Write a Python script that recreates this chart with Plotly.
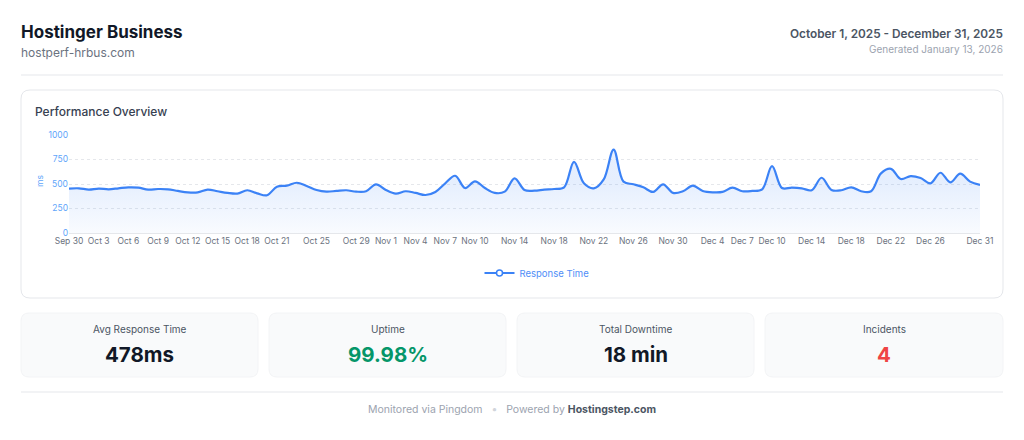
import plotly.graph_objects as go
import pandas as pd

# ---------------- data ----------------
START_DATE = "2025-09-30"
RESPONSE_MS = [
    453, 456, 443, 453, 446, 456, 466, 463, 443, 449,
    446, 429, 415, 415, 443, 426, 409, 402, 436, 405,
    385, 473, 483, 513, 480, 439, 422, 429, 436, 422,
    426, 497, 439, 402, 426, 409, 388, 419, 507, 584,
    459, 527, 459, 409, 422, 557, 439, 432, 443, 449,
    466, 726, 507, 456, 547, 851, 524, 497, 466, 419,
    497, 409, 426, 483, 429, 415, 419, 463, 426, 429,
    446, 682, 459, 463, 456, 436, 564, 439, 436, 466,
    426, 426, 608, 655, 551, 581, 561, 507, 615, 517,
    605, 524, 490,
]
TICK_LABELS = ["Sep 30", "Oct 3", "Oct 6", "Oct 9", "Oct 12", "Oct 15", "Oct 18",
               "Oct 21", "Oct 25", "Oct 29", "Nov 1", "Nov 4", "Nov 7", "Nov 10",
               "Nov 14", "Nov 18", "Nov 22", "Nov 26", "Nov 30", "Dec 4", "Dec 7",
               "Dec 10", "Dec 14", "Dec 18", "Dec 22", "Dec 26", "Dec 31"]
Y_TICKS = [0, 250, 500, 750, 1000]
STAT_LABELS = ["Avg Response Time", "Uptime", "Total Downtime", "Incidents"]
STAT_VALUES = ["478ms", "99.98%", "18 min", "4"]
STAT_COLORS = ["#111827", "#059669", "#111827", "#ef4444"]

dates = pd.date_range(START_DATE, periods=len(RESPONSE_MS), freq="D")
tick_dates = pd.to_datetime([f"{t} 2025" for t in TICK_LABELS], format="%b %d %Y")

# the page body adds an 8px offset; the figure fills the rest of the window
OFF = 8
W, H = 1024 - OFF, 440 - OFF
FONT = "Inter"


def px(x):
    return (x - OFF) / W


def py(y):
    return 1 - (y - OFF) / H


def rrect(x0, y0, x1, y1, r):
    pts = [
        f"M {px(x0 + r)} {py(y0)}",
        f"L {px(x1 - r)} {py(y0)}",
        f"Q {px(x1)} {py(y0)} {px(x1)} {py(y0 + r)}",
        f"L {px(x1)} {py(y1 - r)}",
        f"Q {px(x1)} {py(y1)} {px(x1 - r)} {py(y1)}",
        f"L {px(x0 + r)} {py(y1)}",
        f"Q {px(x0)} {py(y1)} {px(x0)} {py(y1 - r)}",
        f"L {px(x0)} {py(y0 + r)}",
        f"Q {px(x0)} {py(y0)} {px(x0 + r)} {py(y0)}",
        "Z",
    ]
    return " ".join(pts)


fig = go.Figure()

fig.add_trace(go.Scatter(
    x=dates, y=RESPONSE_MS, mode="lines",
    line=dict(color="#3b82f6", width=2.2, shape="spline", smoothing=1.0),
    fill="tozeroy",
    fillgradient=dict(type="vertical",
                      colorscale=[[0, "rgba(59,130,246,0.03)"], [1, "rgba(59,130,246,0.13)"]],
                      start=0, stop=520),
    showlegend=False, hoverinfo="skip",
))
# legend entry
fig.add_trace(go.Scatter(
    x=[None], y=[None], mode="lines+markers", name="Response Time",
    line=dict(color="#3b82f6", width=2),
    marker=dict(symbol="circle", size=6, color="white", line=dict(color="#3b82f6", width=1.5)),
))

shapes = []
shapes.append(dict(type="line", xref="paper", yref="paper", x0=px(21), x1=px(1003), y0=py(75), y1=py(75),
                   line=dict(color="#e5e7eb", width=1)))
shapes.append(dict(type="path", xref="paper", yref="paper", path=rrect(21, 90, 1003, 298, 9),
                   fillcolor="white", line=dict(color="#e5e7eb", width=1), layer="below"))
card_x = [(21, 258), (269, 506), (517, 754), (765, 1003)]
for (a, b) in card_x:
    shapes.append(dict(type="path", xref="paper", yref="paper", path=rrect(a, 313, b, 377, 8),
                       fillcolor="#f9fafb", line=dict(color="#f3f4f6", width=1), layer="below"))
shapes.append(dict(type="line", xref="paper", yref="paper", x0=px(21), x1=px(1003), y0=py(392), y1=py(392),
                   line=dict(color="#e5e7eb", width=1)))

ann = []


def text(x, y, s, size, color, xanchor="left", weight=400, **kw):
    ann.append(dict(x=px(x), y=py(y), xref="paper", yref="paper", text=s, showarrow=False,
                    xanchor=xanchor, yanchor="middle",
                    font=dict(family=FONT, size=size, color=color, weight=weight), **kw))


text(19, 32, "Hostinger Business", 17, "#111827", weight=700)
text(19, 53, "hostperf-hrbus.com", 12, "#6b7280")
text(1005, 34, "October 1, 2025 - December 31, 2025", 11.8, "#4b5563", xanchor="right", weight=600)
text(1005, 49, "Generated January 13, 2026", 10, "#9ca3af", xanchor="right")
text(33, 112, "Performance Overview", 12, "#374151", weight=500)
text(40, 181, "ms", 8.5, "#60a5fa", xanchor="center", textangle=-90)

for (a, b), lbl, val, col in zip(card_x, STAT_LABELS, STAT_VALUES, STAT_COLORS):
    c = (a + b) / 2
    text(c, 329, lbl, 10, "#4b5563", xanchor="center")
    text(c, 354, val, 20.5, col, xanchor="center", weight=700)

text(512, 409,
     "Monitored via Pingdom&nbsp;&nbsp;&nbsp;<span style='color:#d1d5db'>•</span>&nbsp;&nbsp;&nbsp;"
     "Powered by <span style='color:#4b5563'><b>Hostingstep.com</b></span>",
     10.5, "#9ca3af", xanchor="center")

fig.update_layout(
    width=W, height=H,
    margin=dict(l=0, r=0, t=0, b=0),
    paper_bgcolor="white", plot_bgcolor="rgba(0,0,0,0)",
    font=dict(family=FONT),
    shapes=shapes, annotations=ann,
    hovermode=False,
    showlegend=True,
    legend=dict(orientation="h", x=px(537), xanchor="center", y=py(273), yanchor="middle",
                font=dict(family=FONT, size=9.5, color="#4f8ef7"), bgcolor="rgba(0,0,0,0)",
                itemwidth=30),
    xaxis=dict(domain=[px(69), px(980)], range=[dates[0], dates[-1]],
               tickvals=tick_dates, ticktext=TICK_LABELS,
               tickfont=dict(family=FONT, size=8.5, color="#6b7280"),
               showgrid=False, zeroline=False, showline=True, linecolor="#e5e7eb", linewidth=1,
               ticks="", automargin=False, fixedrange=True),
    yaxis=dict(domain=[py(233), py(135)], range=[0, 1000], tickvals=Y_TICKS,
               tickfont=dict(family=FONT, size=8.5, color="#60a5fa"),
               showgrid=True, gridcolor="#e5e7eb", griddash="3px,3px", gridwidth=1,
               zeroline=False, showline=False, ticks="", automargin=False, fixedrange=True),
)

fig.write_html("out.html")
